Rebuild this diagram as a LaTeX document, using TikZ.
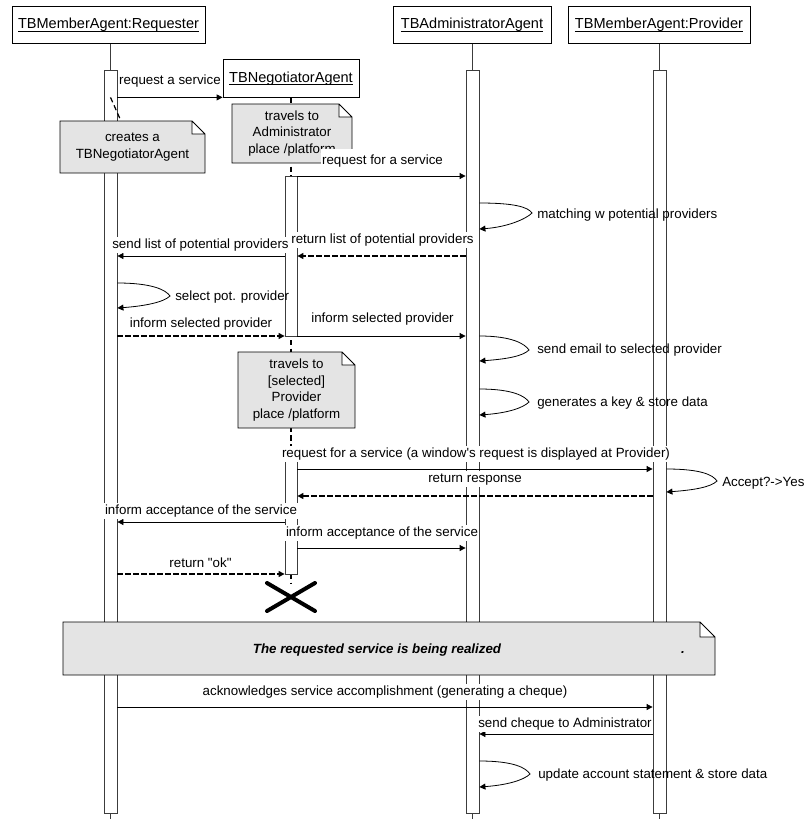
\documentclass[tikz,border=0pt]{standalone}
\usepackage{fontspec}
\setmainfont{Liberation Sans}
\usetikzlibrary{arrows.meta,fit}
\definecolor{notegray}{RGB}{228,228,228}
\definecolor{linegray}{RGB}{60,60,60}
\pgfdeclarelayer{bg}
\pgfsetlayers{bg,main}
\newcommand\hdrul[1]{\setbox0\hbox{#1}\rlap{\rule[-1.8pt]{\wd0}{0.55pt}}\box0}
\newcommand\notebg[5]{%
 \fill[notegray] (#1,#2) -- (#3-#5,#2) -- (#3-#5,#2+#5) -- (#3,#2+#5) -- (#3,#4) -- (#1,#4) -- cycle;
 \fill[white] (#3-#5,#2) -- (#3,#2+#5) -- (#3-#5,#2+#5) -- cycle;
 \draw[noteline] (#1,#2) -- (#3-#5,#2) -- (#3,#2+#5) -- (#3,#4) -- (#1,#4) -- cycle (#3-#5,#2) |- (#3,#2+#5);}
\begin{document}
\begin{tikzpicture}[x=0.75pt,y=-0.75pt,
 txt/.style={font=\fontsize{10}{12.4}\selectfont},
 hdr/.style={draw=black, line width=0.6pt, fill=white, inner sep=0pt, font=\fontsize{10.9}{13}\selectfont, text height=8pt, text depth=1.5pt},
 actbar/.style={draw=linegray, line width=0.6pt, fill=white, inner sep=0pt},
 life/.style={draw=linegray, line width=0.6pt},
 dlife/.style={draw=black, line width=0.9pt, dash pattern=on 4pt off 2.5pt},
 msg/.style={draw=black, line width=0.6pt, -{Triangle[length=4.5pt,width=4.5pt]}},
 ret/.style={msg, line width=0.9pt, dash pattern=on 4pt off 2pt},
 lbl/.style={txt, fill=white, inner xsep=0.5pt, inner ysep=1.2pt, text height=7.5pt, text depth=2.2pt, anchor=base},
 lbw/.style={txt, inner sep=0pt, anchor=base west},
 noteline/.style={draw=black, line width=0.6pt},
 notetext/.style={txt, align=center, inner sep=0pt},
]
\useasboundingbox (0,0) rectangle (808,819);

% levels
\coordinate (Lbot) at (0,819);
\coordinate (Lend) at (0,584);
\coordinate (L176) at (0,176);
\coordinate (L203) at (0,203);
\coordinate (L229) at (0,229);
\coordinate (L256) at (0,256);
\coordinate (L283) at (0,283);
\coordinate (L308) at (0,308);
\coordinate (L336) at (0,336);
\coordinate (L361) at (0,361);
\coordinate (L389) at (0,389);
\coordinate (L415) at (0,415);
\coordinate (L469) at (0,469);
\coordinate (L492) at (0,492);
\coordinate (L496) at (0,496);
\coordinate (L522) at (0,522);
\coordinate (L548) at (0,548);
\coordinate (L574) at (0,574);
\coordinate (L707) at (0,707);
\coordinate (L734) at (0,734);
\coordinate (L761) at (0,761);
\coordinate (L787) at (0,787);

% headers
\node[hdr, minimum width=144.75pt, minimum height=27.75pt] (hR) at (108.5,24.5) {\hdrul{TBMemberAgent:Requester}};
\node[hdr, minimum width=102pt, minimum height=28.5pt] (hN) at (291,78) {\hdrul{TBNegotiatorAgent}};
\node[hdr, minimum width=118.5pt, minimum height=27.75pt] (hA) at (472,24.5) {\hdrul{TBAdministratorAgent}};
\node[hdr, minimum width=136.5pt, minimum height=27.75pt] (hP) at (659,24.5) {\hdrul{TBMemberAgent:Provider}};

% activation bars
\node[actbar, fit={(104,70) (117,813)}] (barR) {};
\node[actbar, fit={(466,70) (479,813)}] (barA) {};
\node[actbar, fit={(653,70) (666,813)}] (barP) {};
\node[actbar, fit={(285,176) (297,336)}] (barN1) {};
\node[actbar, fit={(285,452) (297,574)}] (barN2) {};

% lifelines
\begin{pgfonlayer}{bg}
 \draw[life] (barR.north |- hR.south) -- (barR.north |- Lbot);
 \draw[life] (barA.north |- hA.south) -- (barA.north |- Lbot);
 \draw[life] (barP.north |- hP.south) -- (barP.north |- Lbot);
 \draw[dlife] (hN.south) -- (barN1.north |- Lend);
\end{pgfonlayer}

% notes
\notebg{60}{121}{205}{173}{13}
\node[notetext] (nC) at (132.5,147) {creates a\\TBNegotiatorAgent};
\notebg{232}{104}{352}{163}{13}
\node[notetext] (nT1) at (292,133.5) {travels to\\Administrator\\place /platform};
\notebg{238}{352}{355}{428}{13}
\node[notetext] (nT2) at (296.5,390) {travels to\\{}[selected]\\Provider\\place /platform};

% create message
\coordinate (nCa) at (121,121);
\draw[msg] (barR.east |- hN.south west) -- (hN.south west);
\node[lbl] (t1) at (170,84.5) {request a service};
\draw[dlife] (barR.center |- hN.south west) -- (nCa);

\draw[msg] (barN1.east |- L176) -- (barA.west |- L176);
\node[lbl, text height=10pt] (t2) at (382.5,164) {request for a service};

\draw[msg] (barA.east |- L203) .. controls +(35,0) and +(-4,-6) .. (532,213) .. controls +(-6,6) and +(28,-2) .. (barA.east |- L229);
\node[lbw] (t3) at (537,218.5) {matching w potential providers};

\draw[ret] (barA.west |- L256) -- (barN1.east |- L256);
\node[lbl] (t4) at (382.5,243.5) {return list of potential providers};
\draw[msg] (barN1.west |- L256) -- (barR.east |- L256);
\node[lbl] (t5) at (200.5,248.5) {send list of potential providers};

\draw[msg] (barR.east |- L283) .. controls +(35,0) and +(-4,-6) .. (170,296) .. controls +(-6,6) and +(28,-2) .. (barR.east |- L308);
\node[lbw] (t6) at (175,300.5) {select pot. provider};

\draw[ret] (barR.east |- L336) -- (barN1.west |- L336);
\node[lbl] (t7) at (201,327.5) {inform selected provider};
\draw[msg] (barN1.east |- L336) -- (barA.west |- L336);
\node[lbl] (t8) at (382.5,322.5) {inform selected provider};

\draw[msg] (barA.east |- L336) .. controls +(33,0) and +(-4,-6) .. (529,350) .. controls +(-6,6) and +(28,-2) .. (barA.east |- L361);
\node[lbw] (t9) at (537,353.5) {send email to selected provider};
\draw[msg] (barA.east |- L389) .. controls +(33,0) and +(-4,-6) .. (529,402) .. controls +(-6,6) and +(28,-2) .. (barA.east |- L415);
\node[lbw] (t10) at (537,406.5) {generates a key \& store data};

\draw[msg] (barN2.east |- L469) -- (barP.west |- L469);
\node[lbl] (t11) at (476,457.5) {request for a service (a window\textquotesingle s request is displayed at Provider)};

\draw[msg] (barP.east |- L469) .. controls +(35,0) and +(-4,-6) .. (717,481) .. controls +(-6,6) and +(28,-2) .. (barP.east |- L492);
\node[lbw] (t12) at (722,486.5) {Accept?->Yes};

\draw[ret] (barP.west |- L496) -- (barN2.east |- L496);
\node[lbl] (t13) at (475,482.5) {return response};

\draw[msg] (barN2.west |- L522) -- (barR.east |- L522);
\node[lbl] (t14) at (201,514.5) {inform acceptance of the service};
\draw[msg] (barN2.east |- L548) -- (barA.west |- L548);
\node[lbl] (t15) at (382,536.5) {inform acceptance of the service};
\draw[ret] (barR.east |- L574) -- (barN2.west |- L574);
\node[lbl] (t16) at (200.5,567.5) {return \textquotedbl ok\textquotedbl};

% destruction
\draw[line width=3pt, line cap=round] (267,583) -- (315,611) (267,611) -- (315,583);

% big note
\notebg{63}{622}{715}{675}{15}
\node[txt, font=\fontsize{10}{12.4}\selectfont\bfseries\itshape, inner sep=0pt, anchor=base] (tBig) at (377,653.5) {The requested service is being realized};
\node[txt, font=\fontsize{10}{12.4}\selectfont\bfseries\itshape, inner sep=0pt, anchor=base] (tDot) at (683,653.5) {.};

\draw[msg] (barR.east |- L707) -- (barP.west |- L707);
\node[lbl] (t18) at (385,695.5) {acknowledges service accomplishment (generating a cheque)};
\draw[msg] (barP.west |- L734) -- (barA.east |- L734);
\node[lbl] (t19) at (565,727.5) {send cheque to Administrator};

\draw[msg] (barA.east |- L761) .. controls +(35,0) and +(-4,-6) .. (530,774) .. controls +(-6,6) and +(28,-2) .. (barA.east |- L787);
\node[lbw] (t20) at (538,778.5) {update account statement \& store data};
\end{tikzpicture}
\end{document}
